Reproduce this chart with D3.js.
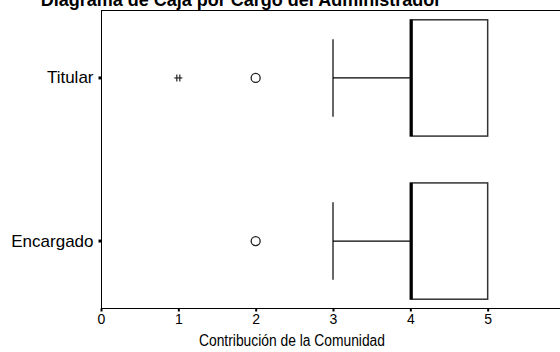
<!DOCTYPE html>
<html><head><meta charset="utf-8">
<script src="https://cdn.jsdelivr.net/npm/d3@7"></script>
<style>body{margin:0;background:#fff}svg{display:block}text{font-family:Arial,"Liberation Sans",sans-serif;fill:#000}</style>
</head><body><svg id="c" width="560" height="352"></svg>
<script>
const categories = ["Titular", "Encargado"];
const whiskerLow = [3, 3];
const q1 = [4, 4];
const median = [4, 4];
const q3 = [5, 5];
const whiskerHigh = [5, 5];
const outliers = [[2], [2]];
const extremes = [[1], []];
const xTicks = [0, 1, 2, 3, 4, 5, 6];
const title = "Diagrama de Caja por Cargo del Administrador";
const xTitle = "Contribución de la Comunidad";

const svg = d3.select("#c");
const x = d3.scaleLinear().domain([0, 6]).range([101, 565]);
const y = d3.scaleBand().domain(categories).range([10, 309]).paddingInner(0.287).paddingOuter(0.06);

// frame
svg.append("line").attr("x1", 101).attr("x2", 560).attr("y1", 10.5).attr("y2", 10.5).attr("stroke", "#000");
svg.append("line").attr("x1", 101.5).attr("x2", 101.5).attr("y1", 10).attr("y2", 309).attr("stroke", "#000");

const xAxis = d3.axisBottom(x).tickValues(xTicks).tickSize(3).tickPadding(3).tickFormat(d3.format("d"));
const gx = svg.append("g").attr("transform", "translate(0,308.5)").call(xAxis);
gx.select(".domain").attr("stroke", "#000").attr("d", "M101,0H560");
gx.selectAll(".tick line").attr("stroke", "#000").attr("stroke-width", 2);
gx.selectAll(".tick text").attr("font-size", 14);

const yAxis = d3.axisLeft(y).tickSize(3).tickPadding(5);
const gy = svg.append("g").attr("transform", "translate(101.5,0)").call(yAxis);
gy.select(".domain").remove();
gy.selectAll(".tick line").attr("stroke", "#000").attr("stroke-width", 3);
gy.selectAll(".tick text").attr("font-size", 17);

categories.forEach((c, i) => {
  const top = y(c), bw = y.bandwidth(), cy = top + bw / 2;
  const g = svg.append("g");
  // whisker
  g.append("line").attr("x1", x(whiskerLow[i])).attr("x2", x(q1[i])).attr("y1", cy).attr("y2", cy).attr("stroke", "#000").attr("stroke-width", 1.2);
  g.append("line").attr("x1", x(whiskerLow[i])).attr("x2", x(whiskerLow[i])).attr("y1", cy - bw / 3).attr("y2", cy + bw / 3).attr("stroke", "#000").attr("stroke-width", 1.2);
  // box
  g.append("rect").attr("x", x(q1[i])).attr("y", top).attr("width", x(q3[i]) - x(q1[i])).attr("height", bw)
    .attr("fill", "#fff").attr("stroke", "#333").attr("stroke-width", 1.5);
  // median
  g.append("line").attr("x1", x(median[i]) + 1).attr("x2", x(median[i]) + 1).attr("y1", top).attr("y2", top + bw).attr("stroke", "#000").attr("stroke-width", 3);
  outliers[i].forEach(v => {
    g.append("circle").attr("cx", x(v)).attr("cy", cy).attr("r", 4.5).attr("fill", "none").attr("stroke", "#222").attr("stroke-width", 1.3);
  });
  extremes[i].forEach(v => {
    const s = g.append("g").attr("transform", `translate(${x(v)},${cy})`).attr("stroke", "#222").attr("stroke-width", 1.2);
    s.append("line").attr("x1", -4).attr("x2", 4).attr("y1", 0).attr("y2", 0);
    s.append("line").attr("x1", -1.5).attr("x2", -1.5).attr("y1", -3.5).attr("y2", 3.5);
    s.append("line").attr("x1", 1.5).attr("x2", 1.5).attr("y1", -3.5).attr("y2", 3.5);
  });
});

svg.append("text").attr("x", 241).attr("y", 6).attr("text-anchor", "middle").attr("font-size", 18).attr("font-weight", "bold").text(title);
svg.append("text").attr("x", 292).attr("y", 346).attr("text-anchor", "middle").attr("font-size", 16)
  .attr("textLength", 186).attr("lengthAdjust", "spacingAndGlyphs").text(xTitle);
</script></body></html>
